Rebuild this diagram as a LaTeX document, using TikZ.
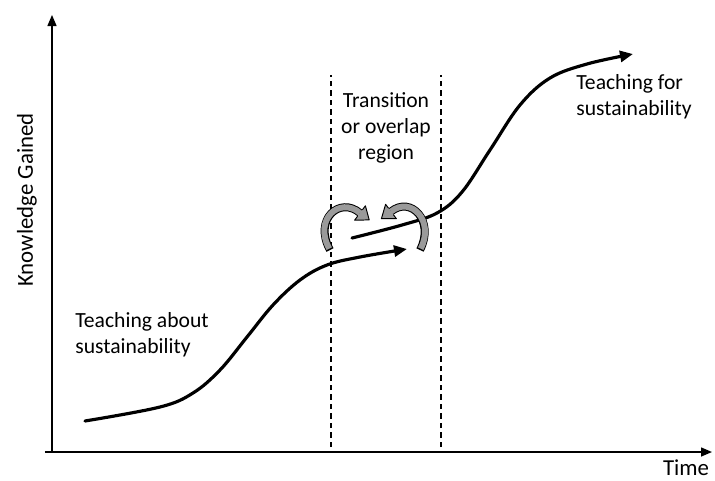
\documentclass[tikz,border=0pt]{standalone}
\usepackage{fontspec}
\setmainfont{Carlito}
\usepackage{tikz}
\usetikzlibrary{arrows.meta}
\definecolor{bandgray}{HTML}{9A9A9A}

\begin{document}
\begin{tikzpicture}[
    axis/.style={line width=0.8pt, -{Triangle[length=2.2mm, width=1.8mm]}},
    border/.style={line width=0.6pt, dash pattern=on 1.1mm off 0.8mm},
    trend/.style={line width=1.8pt, line cap=round,
                  -{Triangle[length=2.6mm, width=2.2mm]}},
    label/.style={inner sep=0pt, font=\fontsize{12.3}{14.8}\selectfont},
    axislabel/.style={inner sep=0pt, font=\fontsize{13}{15}\selectfont},
    bandout/.style={line width=0.16cm},
    bandin/.style={line width=0.12cm, bandgray, shorten <=0.03cm},
  ]
  \useasboundingbox (-1.04,-0.56) rectangle (13.26,9.04);

  % axes
  \coordinate (origin) at (0,0);
  \draw[axis] (-0.14,0) -- (13.2,0) coordinate (xend);
  \draw[axis] (origin) -- (0,8.74) coordinate (yend);
  \node[axislabel, rotate=90] (ylab) at (-0.5,5.04) {Knowledge Gained};
  \node[axislabel] (xlab) at (12.68,-0.31) {Time};

  % overlap region
  \draw[border] (5.58,0.1) -- (5.58,7.54);
  \draw[border] (7.78,0.1) -- (7.78,7.54);

  % the two curves
  \draw[trend] plot[smooth, tension=0.6] coordinates {
    (0.66,0.62) (2.16,0.90) (2.82,1.18) (3.36,1.64) (3.90,2.30)
    (4.42,2.94) (4.96,3.44) (5.50,3.74) (6.16,3.90) (7.10,4.06)};
  \draw[trend] plot[smooth, tension=0.6] coordinates {
    (6.00,4.28) (7.00,4.54) (7.70,4.78) (8.20,5.20) (8.76,6.04)
    (9.36,6.94) (9.96,7.48) (10.70,7.76) (11.62,7.96)};

  % curved arrows, left one
  \draw[bandout] (5.56,4.04) .. controls (5.22,4.66) and (5.76,5.12) .. (6.16,4.78);
  \draw[bandin] (5.56,4.04) .. controls (5.22,4.66) and (5.76,5.12) .. (6.16,4.78);
  \fill[bandgray] (6.268,4.924) -- (6.344,4.642) -- (6.052,4.636) -- cycle;
  \draw[line width=0.55pt, line join=round]
    (6.208,4.844) -- (6.268,4.924) -- (6.344,4.642) -- (6.052,4.636) -- (6.112,4.716);

  % right one
  \draw[bandout] (7.36,4.04) .. controls (7.66,4.62) and (7.18,5.13) .. (6.78,4.81);
  \draw[bandin] (7.36,4.04) .. controls (7.66,4.62) and (7.18,5.13) .. (6.78,4.81);
  \fill[bandgray] (6.672,4.954) -- (6.588,4.666) -- (6.888,4.666) -- cycle;
  \draw[line width=0.55pt, line join=round]
    (6.732,4.874) -- (6.672,4.954) -- (6.588,4.666) -- (6.888,4.666) -- (6.828,4.746);

  % labels
  \node[label, anchor=west, align=left] (about) at (0.46,2.34)
    {Teaching about\\sustainability};
  \node[label, align=center] (overlap) at (6.68,6.48)
    {Transition\\or overlap\\region};
  \node[label, anchor=west, align=left] (for) at (10.48,7.10)
    {Teaching for\\sustainability};
\end{tikzpicture}
\end{document}
